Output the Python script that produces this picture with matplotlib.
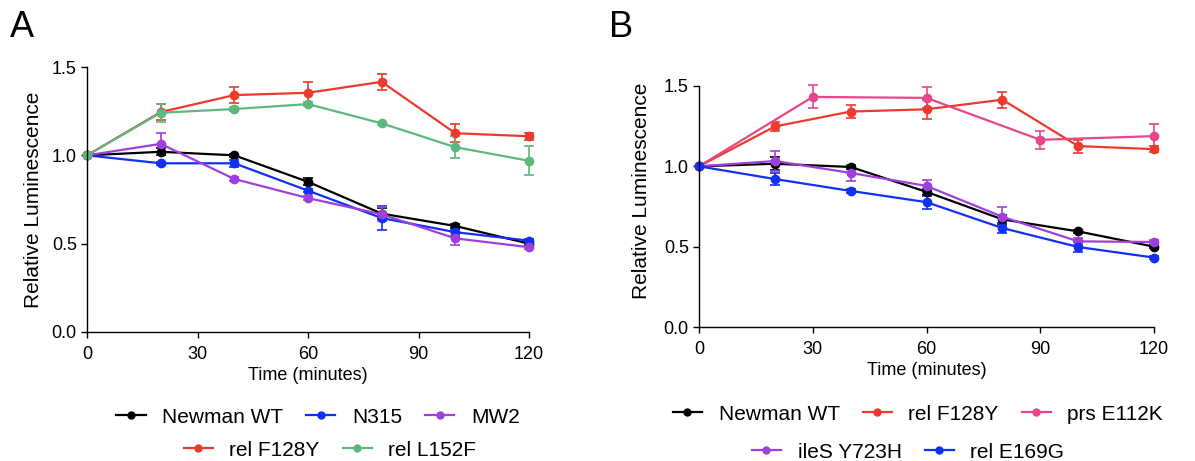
"""
Relative luminescence time course, panels A and B
"""
import numpy as np
import matplotlib
matplotlib.use('Agg')
import matplotlib.pyplot as plt
from matplotlib.lines import Line2D

plt.rcParams['font.family'] = ['Liberation Sans', 'DejaVu Sans']

# Panel A data
time_a = [0, 20, 40, 60, 80, 100, 120]
a_newman = [1.0, 1.02, 1.0, 0.85, 0.67, 0.60, 0.50]
a_newman_err = [0, 0.02, 0.01, 0.02, 0.03, 0.01, 0.01]
a_n315 = [1.0, 0.955, 0.955, 0.80, 0.645, 0.565, 0.517]
a_n315_err = [0, 0.01, 0.02, 0.01, 0.07, 0.02, 0.01]
a_mw2 = [1.0, 1.065, 0.866, 0.758, 0.666, 0.53, 0.48]
a_mw2_err = [0, 0.06, 0.01, 0.01, 0.04, 0.035, 0.01]
a_f128y = [1.0, 1.245, 1.341, 1.354, 1.416, 1.125, 1.108]
a_f128y_err = [0, 0.045, 0.043, 0.063, 0.047, 0.05, 0.02]
a_l152f = [1.0, 1.241, 1.262, 1.29, 1.181, 1.046, 0.969]
a_l152f_err = [0, 0.05, 0.01, 0.01, 0.01, 0.062, 0.083]

# Panel B data
time_b = [0, 20, 40, 60, 80, 100, 120]
time_prs = [0, 30, 60, 90, 120]
b_newman = [1.0, 1.016, 0.996, 0.841, 0.67, 0.595, 0.50]
b_newman_err = [0, 0.04, 0.01, 0.02, 0.03, 0.01, 0.01]
b_f128y = [1.0, 1.248, 1.341, 1.355, 1.415, 1.126, 1.107]
b_f128y_err = [0, 0.03, 0.04, 0.06, 0.05, 0.04, 0.02]
b_e112k = [1.0, 1.432, 1.426, 1.165, 1.188]
b_e112k_err = [0, 0.072, 0.066, 0.057, 0.078]
b_y723h = [1.0, 1.033, 0.959, 0.878, 0.686, 0.533, 0.529]
b_y723h_err = [0, 0.06, 0.05, 0.035, 0.06, 0.02, 0.01]
b_e169g = [1.0, 0.921, 0.847, 0.777, 0.616, 0.498, 0.432]
b_e169g_err = [0, 0.04, 0.01, 0.04, 0.03, 0.03, 0.01]

BLACK = '#000000'
BLUE = '#1030f5'
PURPLE = '#a040dc'
RED = '#ec3a2c'
GREEN = '#5cb87e'
PINK = '#e8468a'


def draw_series(ax, x, y, err, color):
    ax.errorbar(x, y, yerr=err, color=color, lw=1.6, marker='o', ms=6,
                capsize=3.5, elinewidth=1.2, capthick=1.2)


def style_axes(ax):
    ax.set_xlim(0, 120)
    ax.set_ylim(0, 1.5)
    ax.set_xticks([0, 30, 60, 90, 120])
    ax.set_yticks([0.0, 0.5, 1.0, 1.5])
    ax.yaxis.set_major_formatter(plt.FuncFormatter(lambda v, p: f'{v:.1f}'))
    for side in ['top', 'right']:
        ax.spines[side].set_visible(False)
    for side in ['left', 'bottom']:
        ax.spines[side].set_linewidth(1.0)
    ax.tick_params(direction='out', length=4.3, width=1.0, labelsize=13)
    ax.tick_params(axis='x', pad=6)
    ax.tick_params(axis='y', pad=3)
    ax.set_xlabel('Time (minutes)', fontsize=13, labelpad=3)
    ax.set_ylabel('Relative Luminescence', fontsize=15)


def handle(color):
    return Line2D([], [], color=color, lw=1.6, marker='o', ms=5)


def legend_row(fig, colors, labels, cx, cy):
    fig.legend([handle(c) for c in colors], labels, loc='center',
               bbox_to_anchor=(cx / 1195, 1 - cy / 461), ncol=len(labels),
               frameon=False, fontsize=15, handlelength=1.4,
               handletextpad=0.8, columnspacing=1.1, borderpad=0)


fig = plt.figure(figsize=(11.95, 4.61), dpi=100)

# panel A
ax1 = fig.add_axes([87 / 1195, 1 - 332 / 461, (529 - 87) / 1195, (332 - 67) / 461])
draw_series(ax1, time_a, a_newman, a_newman_err, BLACK)
draw_series(ax1, time_a, a_n315, a_n315_err, BLUE)
draw_series(ax1, time_a, a_mw2, a_mw2_err, PURPLE)
draw_series(ax1, time_a, a_f128y, a_f128y_err, RED)
draw_series(ax1, time_a, a_l152f, a_l152f_err, GREEN)
style_axes(ax1)
ax1.yaxis.set_label_coords(-0.100, 0.5)

# panel B
ax2 = fig.add_axes([699 / 1195, 1 - 327 / 461, (1154 - 699) / 1195, (327 - 86) / 461])
draw_series(ax2, time_b, b_newman, b_newman_err, BLACK)
draw_series(ax2, time_b, b_f128y, b_f128y_err, RED)
draw_series(ax2, time_prs, b_e112k, b_e112k_err, PINK)
draw_series(ax2, time_b, b_y723h, b_y723h_err, PURPLE)
draw_series(ax2, time_b, b_e169g, b_e169g_err, BLUE)
style_axes(ax2)
ax2.yaxis.set_label_coords(-0.106, 0.564)

for ax in (ax1, ax2):
    for artist in ax.get_children():
        artist.set_clip_on(False)

# legends, two rows each
legend_row(fig, [BLACK, BLUE, PURPLE], ['Newman WT', 'N315', 'MW2'], 318, 417)
legend_row(fig, [RED, GREEN], ['rel F128Y', 'rel L152F'], 330, 450)
legend_row(fig, [BLACK, RED, PINK], ['Newman WT', 'rel F128Y', 'prs E112K'], 918, 414)
legend_row(fig, [PURPLE, BLUE], ['ileS Y723H', 'rel E169G'], 908, 452)

# panel letters
fig.text(10 / 1195, 1 - 37 / 461, 'A', fontsize=26)
fig.text(609 / 1195, 1 - 37 / 461, 'B', fontsize=26)

plt.savefig('out.png', dpi=100)
plt.close()
